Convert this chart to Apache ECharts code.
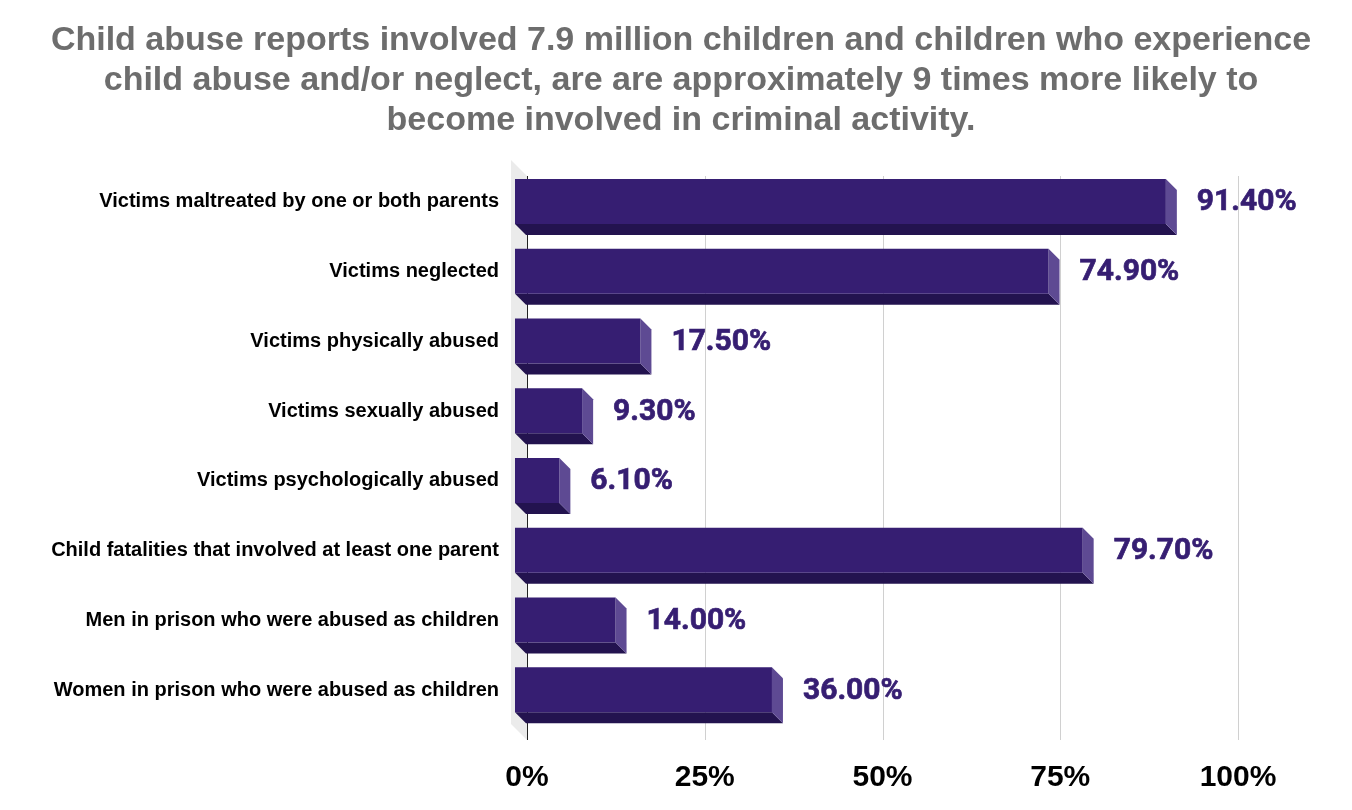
<!DOCTYPE html>
<html>
<head>
<meta charset="utf-8">
<script src="https://cdn.jsdelivr.net/npm/echarts@6/dist/echarts.min.js"></script>
<style>
html,body{margin:0;padding:0;background:#fff;}
#chart{width:1352px;height:810px;}
</style>
</head>
<body>
<div id="chart"></div>
<script>
const titleText = 'Child abuse reports involved 7.9 million children and children who experience\nchild abuse and/or neglect, are are approximately 9 times more likely to\nbecome involved in criminal activity.';
const categories = [
  'Victims maltreated by one or both parents',
  'Victims neglected',
  'Victims physically abused',
  'Victims sexually abused',
  'Victims psychologically abused',
  'Child fatalities that involved at least one parent',
  'Men in prison who were abused as children',
  'Women in prison who were abused as children'
];
const values = [91.4, 74.9, 17.5, 9.3, 6.1, 79.7, 14.0, 36.0];
const xTicks = [0, 25, 50, 75, 100];

const FRONT = '#361e72', BOTTOM = '#23134f', SIDE = '#5e4a93';
const D = 11;

const chart = echarts.init(document.getElementById('chart'), null, {renderer: 'canvas'});

function renderFrame(params, api) {
  const cs = params.coordSys;
  const y0 = cs.y, y1 = cs.y + cs.height;
  const x0 = api.coord([0, 0])[0];
  const children = [];
  children.push({
    type: 'polygon',
    shape: {points: [[x0 - 16, y0 - 7], [x0, y0 + 9], [x0, y1 + 15], [x0 - 16, y1 - 1]]},
    style: {fill: '#ebebeb'}
  });
  xTicks.forEach(function (t) {
    const x = Math.round(api.coord([t, 0])[0]) + 0.5;
    children.push({
      type: 'line',
      shape: {x1: x, y1: y0 + 9, x2: x, y2: y1 + 15},
      style: {stroke: t === 0 ? '#222' : '#d0d0d0', lineWidth: 1}
    });
  });
  return {type: 'group', children: children};
}

function renderBar(params, api) {
  const val = api.value(0);
  const cat = api.value(1);
  const p0 = api.coord([0, cat]);
  const p1 = api.coord([val, cat]);
  const c = p0[1];
  const top = c - 23, fb = c + 22, bb = c + 33;
  const fl = p0[0] - 12, fr = p1[0] - D;
  return {
    type: 'group',
    children: [
      {type: 'polygon', shape: {points: [[fl, fb], [fr, fb], [fr + D, bb], [fl + D, bb]]}, style: {fill: BOTTOM}},
      {type: 'polygon', shape: {points: [[fr, top], [fr + D, top + D], [fr + D, bb], [fr, fb]]}, style: {fill: SIDE}},
      {type: 'rect', shape: {x: fl, y: top, width: fr - fl, height: fb - top}, style: {fill: FRONT}},
      {type: 'text', x: p1[0] + 20, y: c + 1, style: {
        text: val.toFixed(2) + '%', fill: FRONT, stroke: FRONT, lineWidth: 0.7,
        font: 'bold 30px Roboto', verticalAlign: 'middle', align: 'left'}}
    ]
  };
}

const option = {
  backgroundColor: '#ffffff',
  animation: false,
  title: {
    text: titleText,
    left: '50%',
    top: 16,
    textAlign: 'center',
    textStyle: {fontFamily: 'Liberation Sans, Arial', fontWeight: 'bold', fontSize: 34, lineHeight: 40, color: '#6d6d6d'}
  },
  grid: {left: 527, width: 711, top: 167, height: 558},
  xAxis: {
    type: 'value', min: 0, max: 100, interval: 25,
    axisLine: {show: false}, axisTick: {show: false}, splitLine: {show: false},
    axisLabel: {formatter: '{value}%', color: '#000', fontFamily: 'Liberation Sans, Arial', fontWeight: 'bold', fontSize: 30, margin: 38}
  },
  yAxis: {
    type: 'category', data: categories, inverse: true,
    axisLine: {show: false}, axisTick: {show: false}, splitLine: {show: false},
    axisLabel: {color: '#000', fontFamily: 'Liberation Sans, Arial', fontWeight: 'bold', fontSize: 20, margin: 28}
  },
  series: [
    {type: 'custom', renderItem: renderFrame, data: [[0, 0]], encode: {x: 0, y: 1}, silent: true, z: 1},
    {type: 'custom', renderItem: renderBar, data: values.map(function (v, i) { return [v, i]; }), encode: {x: 0, y: 1}, z: 2}
  ]
};
chart.setOption(option);
</script>
</body>
</html>
